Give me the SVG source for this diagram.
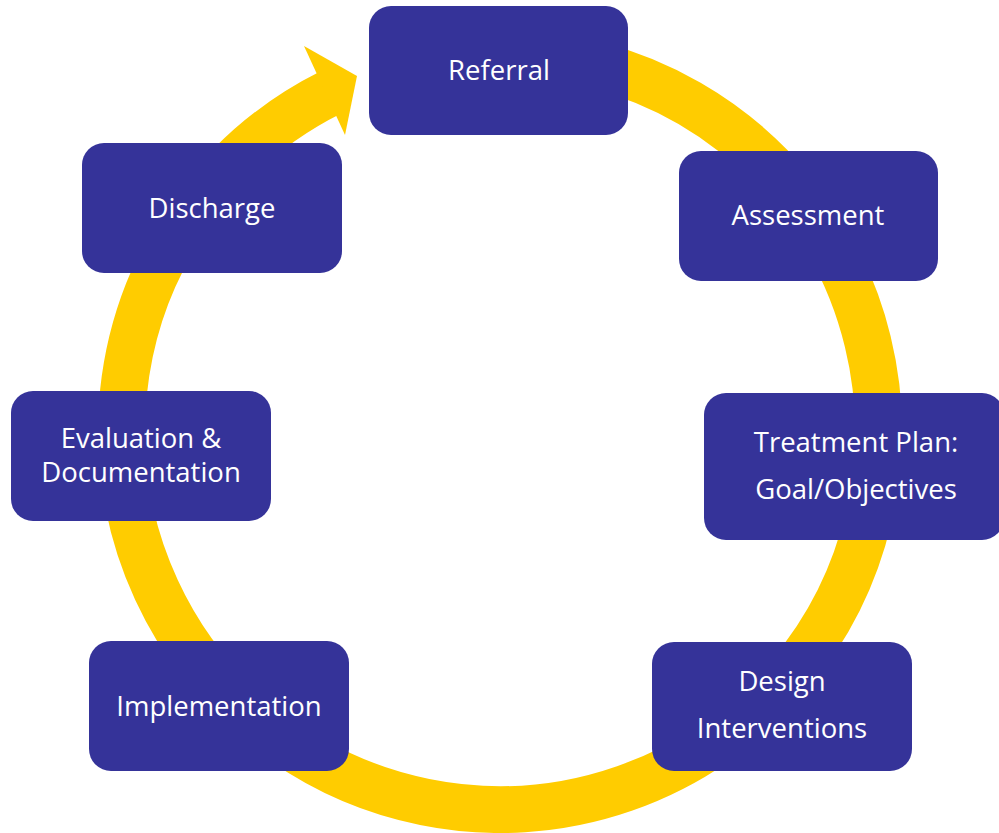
<svg xmlns="http://www.w3.org/2000/svg" width="999" height="833" viewBox="0 0 999 833">
  <style>
    .box { fill: #353399; }
    .lbl { fill: #ffffff; font-family: "Open Sans", "Noto Sans", "DejaVu Sans", sans-serif; font-size: 27.5px; text-anchor: middle; }
    .ring { fill: none; stroke: #FFCC00; stroke-width: 47; }
    .head { fill: #FFCC00; }
  </style>
  <rect width="999" height="833" fill="#ffffff"/>
  <g id="connectors">
    <path class="ring" d="M 421.3 60.8 A 378.5 378.5 0 1 1 331.1 92.3"/>
    <polygon class="head" points="304,46 357,76 345,135"/>
  </g>
  <g id="referral">
    <rect class="box" x="369" y="6" width="259" height="129" rx="22"/>
    <text class="lbl" x="499" y="80">Referral</text>
  </g>
  <g id="assessment">
    <rect class="box" x="679" y="151" width="259" height="130" rx="22"/>
    <text class="lbl" x="808" y="225">Assessment</text>
  </g>
  <g id="treatment-plan">
    <rect class="box" x="704" y="393" width="300" height="147" rx="22"/>
    <text class="lbl" x="856" y="452">Treatment Plan:</text>
    <text class="lbl" x="856" y="499">Goal/Objectives</text>
  </g>
  <g id="design-interventions">
    <rect class="box" x="652" y="642" width="260" height="129" rx="22"/>
    <text class="lbl" x="782" y="691">Design</text>
    <text class="lbl" x="782" y="738">Interventions</text>
  </g>
  <g id="implementation">
    <rect class="box" x="89" y="641" width="260" height="130" rx="22"/>
    <text class="lbl" x="219" y="716">Implementation</text>
  </g>
  <g id="evaluation-documentation">
    <rect class="box" x="11" y="391" width="260" height="130" rx="22"/>
    <text class="lbl" x="141" y="448">Evaluation &amp;</text>
    <text class="lbl" x="141" y="482">Documentation</text>
  </g>
  <g id="discharge">
    <rect class="box" x="82" y="143" width="260" height="130" rx="22"/>
    <text class="lbl" x="212" y="218">Discharge</text>
  </g>
</svg>
